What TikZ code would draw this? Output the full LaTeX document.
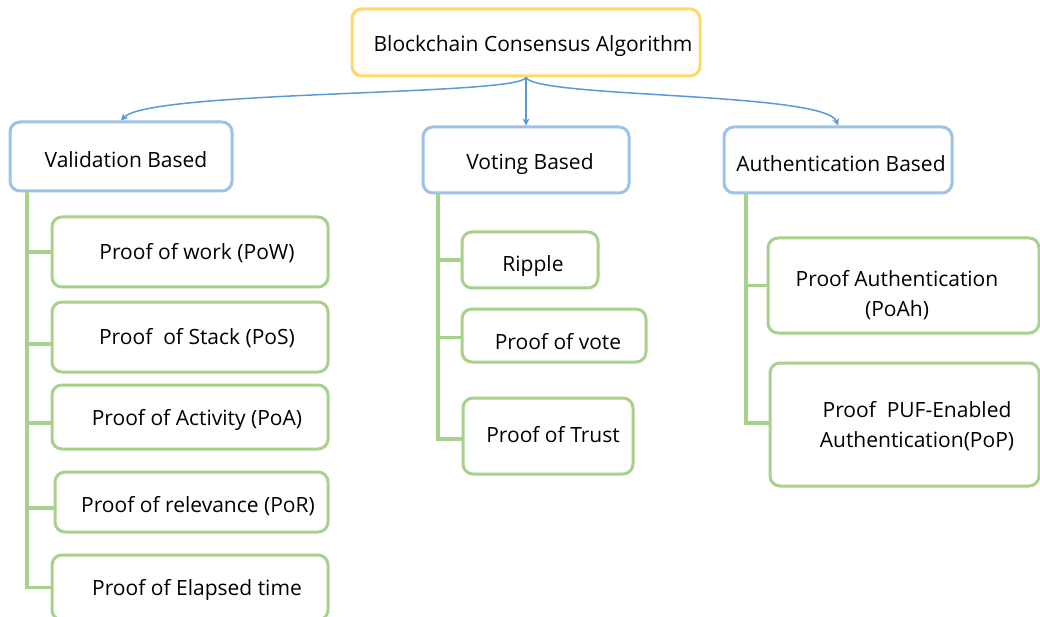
\documentclass[tikz,border=0pt]{standalone}
\usepackage{fontspec}
\setmainfont{Open Sans}
\usetikzlibrary{arrows.meta}
\definecolor{gbox}{HTML}{A9D18E}
\definecolor{bbox}{HTML}{9DC3E6}
\definecolor{ybox}{HTML}{FFD966}
\definecolor{arrc}{HTML}{5B9BD5}
\tikzset{
  boxbase/.style={draw, rounded corners=10pt, line width=3pt, inner sep=0pt, fill=white},
  ybx/.style={boxbase, draw=ybox},
  bbx/.style={boxbase, draw=bbox},
  gbx/.style={boxbase, draw=gbox},
  txt/.style={inner sep=0pt, align=center, font=\fontsize{21}{30}\selectfont, text=black, yshift=-2pt},
  gline/.style={draw=gbox, line width=3.5pt},
  arr/.style={draw=arrc, line width=1.5pt, -{Stealth[length=7pt,width=7pt]}},
}
\begin{document}
\begin{tikzpicture}[x=1pt,y=-1pt]
\useasboundingbox (0,0) rectangle (1040,617);
\fill[white] (0,0) rectangle (1040,617);

% boxes
\node[ybx, minimum width=348pt, minimum height=67pt] (root) at (526,42.5) {};
\node[bbx, minimum width=222pt, minimum height=69pt] (valb) at (121,156.5) {};
\node[bbx, minimum width=206pt, minimum height=66pt] (votb) at (526,160) {};
\node[bbx, minimum width=228pt, minimum height=66pt] (autb) at (838,160) {};

\node[gbx, minimum width=276pt, minimum height=70pt] (pow) at (190,252) {};
\node[gbx, minimum width=276pt, minimum height=70pt] (pos) at (190,337) {};
\node[gbx, minimum width=276pt, minimum height=64pt] (poa) at (190,417) {};
\node[gbx, minimum width=273pt, minimum height=60pt] (por) at (191.5,502) {};
\node[gbx, minimum width=276pt, minimum height=65pt] (poe) at (190,587.5) {};

\node[gbx, minimum width=136pt, minimum height=56pt] (rip) at (530,260) {};
\node[gbx, minimum width=184pt, minimum height=53pt] (vote) at (554,335.5) {};
\node[gbx, minimum width=170pt, minimum height=76pt] (trust) at (548,436) {};

\node[gbx, minimum width=271pt, minimum height=95pt] (poah) at (903.5,285.5) {};
\node[gbx, minimum width=269pt, minimum height=123pt] (pop) at (904.5,424.5) {};

% texts
\node[txt] (troot) at (533,44) {Blockchain Consensus Algorithm};
\node[txt] (tvalb) at (126,158) {Validation Based};
\node[txt] (tvotb) at (530,162) {Voting Based};
\node[txt] (tautb) at (841,162) {Authentication Based};
\node[txt] (tpow) at (197,251) {Proof of work (PoW)};
\node[txt] (tpos) at (197,336) {Proof\ \ of Stack (PoS)};
\node[txt] (tpoa) at (197,418) {Proof of Activity (PoA)};
\node[txt] (tpor) at (198,504) {Proof of relevance (PoR)};
\node[txt] (tpoe) at (197,588) {Proof of Elapsed time};
\node[txt] (trip) at (533,264) {Ripple};
\node[txt] (tvote) at (558,340) {Proof of vote};
\node[txt] (ttrust) at (553,433) {Proof of Trust};
\node[txt] (tpoah) at (897,293) {Proof Authentication\\(PoAh)};
\node[txt] (tpop) at (917,424) {Proof\ \ PUF-Enabled\\Authentication(PoP)};

% arrows from root
\draw[arr] (root.south) .. controls (518,96) and (150,90) .. (valb.north);
\draw[arr] (root.south) -- (votb.north);
\draw[arr] (root.south) .. controls (536,98) and (826,92) .. (autb.north);

% trunk coordinates
\coordinate (vx) at (27,0);
\coordinate (wx) at (438,0);
\coordinate (ax) at (746,0);

% validation tree
\coordinate (b1) at (pow.west);
\coordinate (b2) at ([yshift=-7pt]pos.west);
\coordinate (b3) at ([yshift=-6pt]poa.west);
\coordinate (b4) at ([yshift=-6pt]por.west);
\coordinate (b5) at (poe.west);
\draw[gline] (valb.south -| vx) -- (b5 -| vx) -- (b5);
\draw[gline] (b1 -| vx) -- (b1);
\draw[gline] (b2 -| vx) -- (b2);
\draw[gline] (b3 -| vx) -- (b3);
\draw[gline] (b4 -| vx) -- (b4);

% voting tree
\coordinate (c1) at (rip.west);
\coordinate (c2) at ([yshift=-2pt]vote.west);
\coordinate (c3) at ([yshift=-3pt]trust.west);
\draw[gline] (votb.south -| wx) -- (c3 -| wx) -- (c3);
\draw[gline] (c1 -| wx) -- (c1);
\draw[gline] (c2 -| wx) -- (c2);

% authentication tree
\coordinate (d1) at (poah.west);
\coordinate (d2) at ([yshift=1.5pt]pop.west);
\draw[gline] (autb.south -| ax) -- (d2 -| ax) -- (d2);
\draw[gline] (d1 -| ax) -- (d1);
\end{tikzpicture}
\end{document}
